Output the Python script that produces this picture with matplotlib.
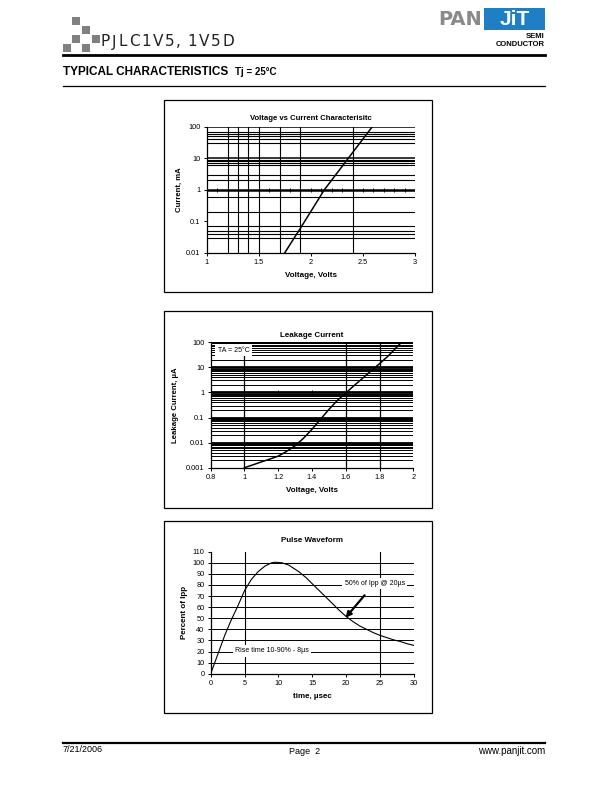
import numpy as np
import matplotlib
matplotlib.use("Agg")
import matplotlib.pyplot as plt
from matplotlib.patches import Rectangle

plt.rcParams['font.family'] = ['Liberation Sans', 'DejaVu Sans']

# Grafico 1: Voltage vs Current
v1_volts = [1.75, 1.90, 2.13, 2.36, 2.59]
v1_current_ma = [0.01, 0.06, 1, 10, 100]
v1_xticks = [1, 1.5, 2, 2.5, 3]
v1_xticklabels = ["1", "1.5", "2", "2.5", "3"]
v1_yticks = [0.01, 0.1, 1, 10, 100]
v1_yticklabels = ["0.01", "0.1", "1", "10", "100"]
v1_vgrid = [1.2, 1.3, 1.4, 1.5, 1.7, 1.9, 2.4]
v1_hgrid = [70, 60, 50, 40, 30, 9, 8, 7, 6, 3, 2, 0.6, 0.2, 0.07, 0.05, 0.04, 0.03]
v1_marks = [1.1, 1.6, 1.8, 2.0, 2.1, 2.2, 2.3, 2.5, 2.6, 2.7, 2.8, 2.9]

# Grafico 2: Leakage Current
lk_volts = [1.0, 1.05, 1.1, 1.15, 1.2, 1.25, 1.3, 1.35, 1.4, 1.45, 1.5, 1.55, 1.6, 1.65, 1.7, 1.75, 1.8, 1.85, 1.93]
lk_current_ua = [0.001, 0.0013, 0.0017, 0.0022, 0.0029, 0.0045, 0.0075, 0.015, 0.034, 0.085, 0.21, 0.48, 0.95, 1.9, 3.7, 7.3, 14, 28, 100]
lk_xticks = [0.8, 1, 1.2, 1.4, 1.6, 1.8, 2]
lk_xticklabels = ["0.8", "1", "1.2", "1.4", "1.6", "1.8", "2"]
lk_yticks = [0.001, 0.01, 0.1, 1, 10, 100]
lk_yticklabels = ["0.001", "0.01", "0.1", "1", "10", "100"]
lk_vgrid = [1.0, 1.6, 1.8]
lk_marks = [1.2, 1.4]

# Grafico 3: Pulse Waveform
pw_time = [0, 2.1, 3, 4, 5, 6, 7, 8, 9, 9.5, 10.5, 11.5, 12, 13, 14, 15, 16, 17, 18, 19, 20, 21, 22, 23, 24, 25, 26, 27, 28, 29, 30]
pw_percent = [0, 35, 48, 61, 75, 85, 92, 97, 100, 100.5, 100, 98, 96, 92, 87, 81, 75, 69, 63, 57, 51.5, 47, 43, 40, 37, 34.5, 32.5, 30.5, 29, 27, 25.5]
pw_xticks = [0, 5, 10, 15, 20, 25, 30]
pw_yticks = [0, 10, 20, 30, 40, 50, 60, 70, 80, 90, 100, 110]
pw_hgrid = [10, 20, 30, 40, 50, 60, 70, 80, 90, 100]
pw_vgrid = [5, 25]

W, H = 612, 792
fig = plt.figure(figsize=(W / 100, H / 100), dpi=100)
renderer = fig.canvas.get_renderer()


def ejes(left, top, right, bottom):
    return fig.add_axes([left / W, 1 - bottom / H, (right - left) / W, (bottom - top) / H])


def caja(left, top, right, bottom):
    fig.patches.append(Rectangle((left / W, 1 - bottom / H), (right - left) / W, (bottom - top) / H,
                                 transform=fig.transFigure, fill=False, ec='black', lw=0.9))


def linea(x0, x1, y, lw=1.6):
    fig.add_artist(plt.Line2D([x0 / W, x1 / W], [1 - y / H, 1 - y / H], color='black', lw=lw))


def texto(x, y, s, **kw):
    return fig.text(x / W, 1 - y / H, s, **kw)


def estilo(ax):
    for lado in ['top', 'right']:
        ax.spines[lado].set_visible(False)
    for lado in ['left', 'bottom']:
        ax.spines[lado].set_linewidth(0.9)
    ax.tick_params(axis='both', which='major', labelsize=5.3, length=2, width=0.7, pad=2.5, direction='out')
    ax.tick_params(axis='both', which='minor', length=0)


# --- encabezado ---
cuadros = [(72, 17), (82, 26), (72, 35), (92, 35), (63, 44), (82, 44)]
for cx, cy in cuadros:
    fig.patches.append(Rectangle((cx / W, 1 - (cy + 7.5) / H), 7.5 / W, 7.5 / H,
                                 transform=fig.transFigure, color='#808080', lw=0))

# titulo con un poco de espacio entre letras
x = 101
for ch in "PJLC1V5, 1V5D":
    if ch == " ":
        x += 4.5
        continue
    t = texto(x, 42, ch, fontsize=11, va='center', ha='left', color='#222222', family=['DejaVu Sans'])
    x += t.get_window_extent(renderer).width + 1.8

texto(482, 19.5, "PAN", fontsize=14, fontweight='bold', color='#8a8a8a', ha='right', va='center',
      family=['DejaVu Sans'])
fig.patches.append(Rectangle((484 / W, 1 - 30 / H), 61 / W, 22 / H, transform=fig.transFigure,
                             color='#1f7fc4', lw=0))
texto(514.5, 19.5, "JiT", fontsize=15, fontweight='bold', color='white', ha='center', va='center')
texto(545, 37, "SEMI", fontsize=5.5, fontweight='bold', ha='right', va='center')
texto(545, 44.5, "CONDUCTOR", fontsize=5.5, fontweight='bold', ha='right', va='center')
linea(63, 545, 55, lw=2)

texto(63, 72, "TYPICAL CHARACTERISTICS", fontsize=8.5, fontweight='bold', va='center')
texto(235, 72, "Tj = 25°C", fontsize=7, fontweight='bold', va='center')
linea(63, 545, 85.5, lw=0.9)

# --- grafico 1 ---
caja(164, 100, 432, 292)
ax1 = ejes(206.7, 126.7, 415, 252.7)
ax1.set_yscale('log')
ax1.set_xlim(1, 3)
ax1.set_ylim(0.01, 100)
for v in v1_vgrid:
    ax1.axvline(v, color='black', lw=0.8)
for h in v1_hgrid:
    ax1.axhline(h, color='black', lw=0.8)
for h in [100, 10]:
    ax1.axhline(h, color='black', lw=1.1)
ax1.axhline(1, color='black', lw=1.8)
ax1.plot(v1_marks, [1] * len(v1_marks), linestyle='none', marker='|', ms=3.5, mew=0.7, color='black')
ax1.plot(v1_volts, v1_current_ma, color='black', lw=1.1)
ax1.set_xticks(v1_xticks)
ax1.set_xticklabels(v1_xticklabels)
ax1.set_yticks(v1_yticks)
ax1.set_yticklabels(v1_yticklabels)
estilo(ax1)
ax1.set_title("Voltage vs Current Characterisitc", fontsize=5.6, fontweight='bold', pad=5)
ax1.set_xlabel("Voltage, Volts", fontsize=5.8, fontweight='bold', labelpad=4)
ax1.set_ylabel("Current, mA", fontsize=5.6, fontweight='bold', labelpad=2)

# --- grafico 2 ---
caja(164, 311, 432, 508)
ax2 = ejes(210.7, 342.3, 413.3, 467.7)
ax2.set_yscale('log')
ax2.set_xlim(0.8, 2)
ax2.set_ylim(0.001, 100)
for dec in [0.001, 0.01, 0.1, 1, 10]:
    for k in range(2, 10):
        ax2.axhline(dec * k, color='black', lw=0.7)
for dec in [0.01, 0.1, 1, 10, 100]:
    ax2.axhline(dec, color='black', lw=2)
for v in lk_vgrid:
    ax2.axvline(v, color='black', lw=0.9)
ax2.plot(lk_marks, [1] * len(lk_marks), linestyle='none', marker='|', ms=3.5, mew=0.7, color='black')
ax2.plot(lk_volts, lk_current_ua, color='black', lw=1.1)
ax2.set_xticks(lk_xticks)
ax2.set_xticklabels(lk_xticklabels)
ax2.set_yticks(lk_yticks)
ax2.set_yticklabels(lk_yticklabels)
estilo(ax2)
ax2.text(0.935, 49, "TA = 25°C", fontsize=5, ha='center', va='center',
         bbox=dict(facecolor='white', edgecolor='none', pad=1.8))
ax2.set_title("Leakage Current", fontsize=5.8, fontweight='bold', pad=4)
ax2.set_xlabel("Voltage, Volts", fontsize=5.8, fontweight='bold', labelpad=4)
ax2.set_ylabel("Leakage Current, µA", fontsize=5.6, fontweight='bold', labelpad=5)

# --- grafico 3 ---
caja(164, 521, 432, 713)
ax3 = ejes(210.7, 551.7, 414, 673.7)
ax3.set_xlim(0, 30)
ax3.set_ylim(0, 110)
for h in pw_hgrid:
    ax3.axhline(h, color='black', lw=0.7)
for v in pw_vgrid:
    ax3.axvline(v, color='black', lw=0.8)
ax3.plot(pw_time, pw_percent, color='black', lw=0.8)
ax3.set_xticks(pw_xticks)
ax3.set_yticks(pw_yticks)
estilo(ax3)
ax3.text(9.0, 20.5, "Rise time 10-90% - 8µs", fontsize=5, ha='center', va='center',
         bbox=dict(facecolor='white', edgecolor='none', pad=1.5))
ax3.annotate("50% of Ipp @ 20µs", xy=(19.9, 50.5), xytext=(24.2, 81.5), fontsize=5,
             ha='center', va='center',
             bbox=dict(facecolor='white', edgecolor='none', pad=1.5),
             arrowprops=dict(arrowstyle='-|>', color='black', lw=1.6, mutation_scale=8,
                             shrinkA=6, shrinkB=0))
ax3.set_title("Pulse Waveform", fontsize=5.8, fontweight='bold', pad=7)
ax3.set_xlabel("time, µsec", fontsize=5.8, fontweight='bold', labelpad=4)
ax3.set_ylabel("Percent of Ipp", fontsize=5.8, fontweight='bold', labelpad=3)

# --- pie de pagina ---
linea(63, 545, 743, lw=1.6)
texto(63, 750, "7/21/2006", fontsize=6.5, va='center')
texto(305, 752, "Page  2", fontsize=6.5, va='center', ha='center')
texto(545, 751, "www.panjit.com", fontsize=7, va='center', ha='right')

fig.savefig("out.png", dpi=100)
